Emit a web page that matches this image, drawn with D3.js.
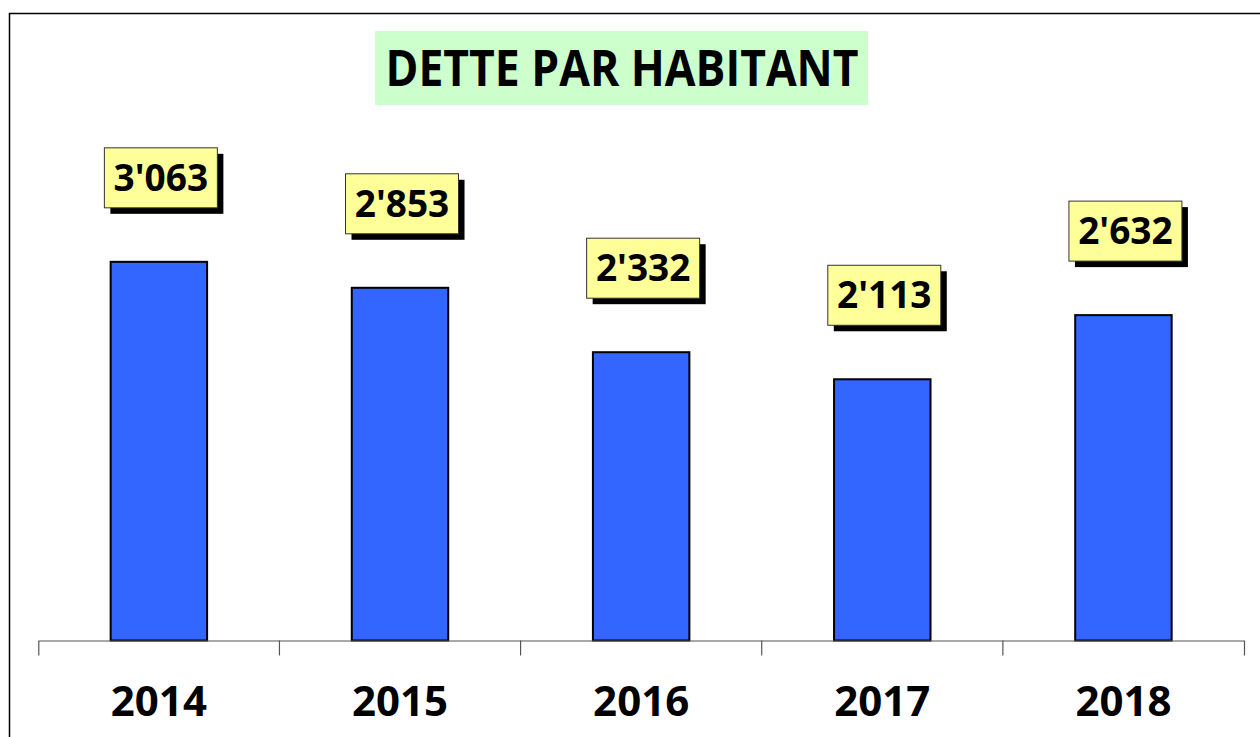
<!DOCTYPE html>
<html>
<head>
<meta charset="utf-8">
<script src="https://cdn.jsdelivr.net/npm/d3@7"></script>
<style>
  body { margin: 0; background: #fff; }
  svg { display: block; font-family: 'Open Sans', sans-serif; }
</style>
</head>
<body>
<svg id="chart" width="1260" height="737"></svg>
<script>
// data
const years = ['2014', '2015', '2016', '2017', '2018'];
const debtPerInhabitant = [3063, 2853, 2332, 2113, 2632];
const title = 'DETTE PAR HABITANT';

const svg = d3.select('#chart');

// Swiss style thousands separator: 3'063
const fmt = d3.formatLocale({ decimal: '.', thousands: "'", grouping: [3], currency: ['', ''] }).format(',d');

const data = years.map((y, i) => ({ year: y, value: debtPerInhabitant[i] }));

// Scales
const x = d3.scaleBand().domain(years).range([38.3, 1244]).padding(0);
const y = d3.scaleLinear().domain([0, 3500]).range([640.5, 207.8]);
const barW = x.bandwidth() * 0.4;

// Chart area border (left and top edges are visible)
svg.append('path')
  .attr('d', 'M9.5,737 V13.5 H1260')
  .attr('fill', 'none')
  .attr('stroke', '#000')
  .attr('stroke-width', 1.5);

// Title box
const titleG = svg.append('g');
titleG.append('rect')
  .attr('x', 375).attr('y', 31)
  .attr('width', 493).attr('height', 74)
  .attr('fill', '#ccffcc');
titleG.append('text')
  .attr('x', 622).attr('y', 86)
  .attr('text-anchor', 'middle')
  .attr('font-size', 50)
  .attr('font-weight', 700)
  .attr('textLength', 473)
  .attr('lengthAdjust', 'spacingAndGlyphs')
  .text(title);

// Bars
svg.append('g')
  .selectAll('rect')
  .data(data)
  .join('rect')
  .attr('x', (d) => x(d.year) + x.bandwidth() * 0.3)
  .attr('y', (d) => y(d.value))
  .attr('width', barW)
  .attr('height', (d) => y(0) - y(d.value))
  .attr('fill', '#3366ff')
  .attr('stroke', '#000')
  .attr('stroke-width', 2);

// X axis: baseline, end ticks, year labels
const axis = svg.append('g')
  .attr('transform', `translate(0,${y(0)})`)
  .call(d3.axisBottom(x).tickSize(0).tickSizeOuter(15).tickPadding(46));
axis.select('.domain').attr('stroke', '#555').attr('stroke-width', 1.2);
axis.selectAll('text')
  .attr('font-size', 42)
  .attr('font-weight', 700)
  .attr('fill', '#000')
  .attr('font-family', "'Open Sans', sans-serif");

// separators between categories
axis.selectAll('line.sep')
  .data(years.slice(1))
  .join('line')
  .attr('class', 'sep')
  .attr('x1', (d) => x(d)).attr('x2', (d) => x(d))
  .attr('y1', 0).attr('y2', 15)
  .attr('stroke', '#555')
  .attr('stroke-width', 1.2);

// Value labels: yellow boxes with a black drop shadow
const boxW = 113, boxH = 60, lift = 114;
const labels = svg.append('g')
  .selectAll('g')
  .data(data)
  .join('g')
  .attr('transform', (d) => `translate(${x(d.year) + x.bandwidth() / 2 + 2 - boxW / 2},${y(d.value) - lift})`);

labels.append('rect')
  .attr('x', 6).attr('y', 6)
  .attr('width', boxW).attr('height', boxH)
  .attr('fill', '#000');

labels.append('rect')
  .attr('width', boxW).attr('height', boxH)
  .attr('fill', '#ffff99')
  .attr('stroke', '#333')
  .attr('stroke-width', 1);

labels.append('text')
  .attr('x', boxW / 2)
  .attr('y', boxH / 2 + 13)
  .attr('text-anchor', 'middle')
  .attr('font-size', 37)
  .attr('font-weight', 700)
  .text((d) => fmt(d.value));
</script>
</body>
</html>
